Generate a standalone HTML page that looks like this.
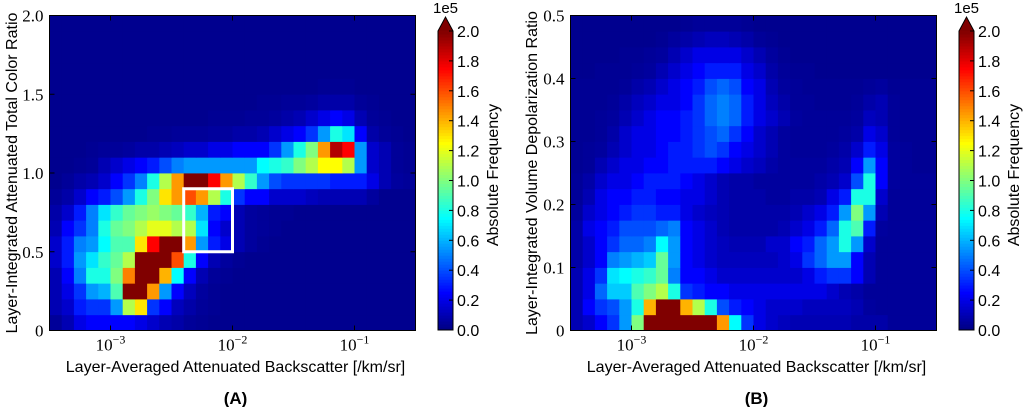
<!DOCTYPE html>
<html><head><meta charset="utf-8"><style>
html,body{margin:0;padding:0;background:#fff;}
svg{display:block;}
.serif{font-family:"Liberation Serif",serif;}
.sans{font-family:"Liberation Sans",sans-serif;}
</style></head><body>
<svg id="fig" width="1024" height="407" viewBox="0 0 1024 407" xmlns="http://www.w3.org/2000/svg"></svg>
<script>
// ---- data (values in units of 1e4 counts); rows bottom->top, 30 log-x bins ----
const xBinStartLog = -3.5;
const xBinWidthLog = 0.1;
const xTickLogs = [-3, -2, -1];
const yTicksA = [0, 0.5, 1.0, 1.5, 2.0];
const yTickLabelsA = ["0", "0.5", "1.0", "1.5", "2.0"];
const yTicksB = [0, 0.1, 0.2, 0.3, 0.4, 0.5];
const yTickLabelsB = ["0", "0.1", "0.2", "0.3", "0.4", "0.5"];
const cbTicks = [0, 0.2, 0.4, 0.6, 0.8, 1.0, 1.2, 1.4, 1.6, 1.8, 2.0];
const cbTickLabels = ["0.0","0.2","0.4","0.6","0.8","1.0","1.2","1.4","1.6","1.8","2.0"];
const boxA = {x0: -2.4, x1: -2.0, y0: 0.5, y1: 0.9};

const gridA = [
[0.5,1,2,2.5,2.5,2.5,2.5,2,1.5,1,0.8,0.5,0.4,0.3,0.3,0.3,0.3,0.3,0.3,0.3,0.3,0.3,0.3,0.3,0.3,0.3,0.3,0.3,0.3,0.3],
[1,1.5,3,3.5,3.5,5.5,11,13,3.5,2.5,1.2,0.8,0.5,0.4,0.3,0.3,0.3,0.3,0.3,0.3,0.3,0.3,0.3,0.3,0.3,0.3,0.3,0.3,0.3,0.3],
[1,2,3.5,5.5,6,9,20,20,14.5,5.5,2.5,1.2,0.6,0.4,0.3,0.3,0.3,0.3,0.3,0.3,0.3,0.3,0.3,0.3,0.3,0.3,0.3,0.3,0.3,0.3],
[1,2.5,5,8,8,10,15,20,20,14,7.5,2.5,1,0.5,0.4,0.3,0.3,0.3,0.3,0.3,0.3,0.3,0.3,0.3,0.3,0.3,0.3,0.3,0.3,0.3],
[1.5,3,5.5,7,8.5,9.5,11,20,20,20,16,8,2.5,1,0.6,0.4,0.3,0.3,0.3,0.3,0.3,0.3,0.3,0.3,0.3,0.3,0.3,0.3,0.3,0.3],
[1.5,3,5,5.5,7.5,9,9,13,17.5,20,20,14.5,5.5,3,2,1,0.6,0.4,0.3,0.3,0.3,0.3,0.3,0.3,0.3,0.3,0.3,0.3,0.3,0.3],
[1,2.5,3.5,5,8,9.5,10,11,12,12,11,11,7,2.5,1.5,1,0.6,0.5,0.4,0.3,0.3,0.3,0.3,0.3,0.3,0.3,0.3,0.3,0.3,0.3],
[0.8,1.5,3,5,7,8.5,9.5,10,10.5,10,9.5,8.5,6,3,2.5,1,0.6,0.5,0.4,0.4,0.3,0.3,0.3,0.3,0.3,0.3,0.3,0.3,0.3,0.3],
[0.5,0.8,1.5,2.5,3,4,5.5,8,10,13,14.5,16,14.5,11,8,3.5,2.5,2.5,1.5,1.5,1.5,1.2,1,1,1,1,0.6,0.3,0.3,0.3],
[0.3,0.5,0.8,1,1.5,2.5,3.5,5,8,11,14.5,20,20,17.5,14.5,11,8.5,5.5,4,3.5,3.5,3.5,3.5,3,3,3,2,1,0.6,0.5],
[0.3,0.3,0.4,0.5,1,1.5,2,2.5,3,4,5,5.5,5.5,5.5,5.5,5.5,5.5,7.5,8,8.5,10,11,12.5,12.5,11,5.5,1.5,1,0.5,0.4],
[0.3,0.3,0.3,0.4,0.5,0.5,0.6,0.8,0.8,1,1.2,1.5,1.5,2,2,2.5,2.5,2.5,3.5,5.5,8,10,14.5,19,17.5,5.5,1.5,1,0.5,0.4],
[0.3,0.3,0.3,0.3,0.3,0.3,0.3,0.3,0.4,0.4,0.5,0.5,0.5,0.6,0.6,0.8,0.8,1,1.5,2,2.5,3.5,5.5,8,7,2.5,0.8,0.5,0.4,0.3],
[0.3,0.3,0.3,0.3,0.3,0.3,0.3,0.3,0.3,0.3,0.3,0.3,0.3,0.4,0.4,0.4,0.5,0.5,0.6,0.8,1,1.5,2,2.5,2,1,0.5,0.4,0.3,0.3],
[0.3,0.3,0.3,0.3,0.3,0.3,0.3,0.3,0.3,0.3,0.3,0.3,0.3,0.3,0.3,0.3,0.3,0.4,0.4,0.5,0.5,0.6,0.8,0.8,0.8,0.5,0.4,0.3,0.3,0.3],
[0.3,0.3,0.3,0.3,0.3,0.3,0.3,0.3,0.3,0.3,0.3,0.3,0.3,0.3,0.3,0.3,0.3,0.3,0.3,0.3,0.3,0.3,0.4,0.4,0.4,0.3,0.3,0.3,0.3,0.3],
[0.3,0.3,0.3,0.3,0.3,0.3,0.3,0.3,0.3,0.3,0.3,0.3,0.3,0.3,0.3,0.3,0.3,0.3,0.3,0.3,0.3,0.3,0.3,0.3,0.3,0.3,0.3,0.3,0.3,0.3],
[0.3,0.3,0.3,0.3,0.3,0.3,0.3,0.3,0.3,0.3,0.3,0.3,0.3,0.3,0.3,0.3,0.3,0.3,0.3,0.3,0.3,0.3,0.3,0.3,0.3,0.3,0.3,0.3,0.3,0.3],
[0.3,0.3,0.3,0.3,0.3,0.3,0.3,0.3,0.3,0.3,0.3,0.3,0.3,0.3,0.3,0.3,0.3,0.3,0.3,0.3,0.3,0.3,0.3,0.3,0.3,0.3,0.3,0.3,0.3,0.3],
[0.3,0.3,0.3,0.3,0.3,0.3,0.3,0.3,0.3,0.3,0.3,0.3,0.3,0.3,0.3,0.3,0.3,0.3,0.3,0.3,0.3,0.3,0.3,0.3,0.3,0.3,0.3,0.3,0.3,0.3]
];

const gridB = [
[1,1.5,2.5,3.5,5.5,10,20,20,20,20,20,20,14.5,7.5,3.5,2,1.5,1.2,1,1,1,1,1,0.8,0.8,0.8,0.5,0.5,0.5,0.5],
[1,2.5,3.5,4,5.5,8,14,20,20,14,11,8,4,3,2.5,2,1.5,1.5,1.5,1.2,1.2,1.2,1.2,1,0.6,0.5,0.5,0.5,0.5,0.5],
[1,2,4.5,6.5,6.5,9,10,11,8,3.5,3,2.5,2.5,2,2,2,2,2,2,2,2,1.5,1,0.8,0.5,0.5,0.5,0.5,0.5,0.5],
[1,2,3.5,7,7.5,8,8.5,9.5,5,2.5,2.5,2,1.5,1.5,1.5,1.5,1.5,1.5,1.5,2,3,3.5,3.5,2.5,1,0.5,0.5,0.5,0.5,0.5],
[0.8,1.5,2.5,5,5.5,6,6.5,9.5,5.5,2.5,2,1.5,1.2,1.2,1.2,1.2,1.2,1.5,2,3.5,4.5,5.5,5.5,2.5,1,0.5,0.5,0.5,0.5,0.5],
[0.8,1.5,2.5,3.5,4.5,4.5,5,7.5,5.5,2.5,2,1.5,1.2,1,1,1,1.5,1.5,2.5,3,4.5,5.5,8,5.5,1.5,0.5,0.5,0.5,0.5,0.5],
[0.8,2,2.5,3,4,4,4,4.5,5,2.5,2,1.5,1,0.8,0.8,0.8,0.8,1,1.5,2,3,4.5,8,9,3,0.6,0.5,0.5,0.5,0.5],
[0.6,1.5,2,2.5,3,3.5,3.5,3,3,2,1.5,1.2,1,0.8,0.8,0.8,0.8,0.8,1,1.5,2,3,5.5,10,5.5,1,0.5,0.5,0.5,0.5],
[0.5,1,2,2.5,2.5,3,3,2.5,2.5,2,2,1.5,1,0.8,0.8,0.8,0.6,0.6,0.8,0.8,1,2,3,8,8,1.5,0.5,0.5,0.5,0.5],
[0.5,0.8,1.5,2,2,2.5,3,3,3,2.5,2,1.5,1,0.8,0.8,0.6,0.6,0.6,0.6,0.6,0.8,1,1.5,4,8,2.5,0.6,0.5,0.5,0.5],
[0.4,0.5,1,1.5,2,2,2.5,2.5,3,3,3,3,2.5,2,1.5,1.2,0.8,0.6,0.6,0.6,0.6,0.8,1,2.5,5.5,2.5,0.6,0.5,0.4,0.4],
[0.4,0.5,0.6,1,1.5,2,2,2.5,3,3,3.5,4,3.5,2.5,2,1.5,1,0.6,0.5,0.5,0.5,0.6,0.8,1.5,3,2,0.6,0.5,0.4,0.4],
[0.4,0.4,0.5,0.8,1.5,2,2,2.5,2.5,3,3.5,4,4.5,3.5,2.5,1.5,1,0.6,0.5,0.5,0.5,0.5,0.6,0.8,2,1.5,0.5,0.4,0.4,0.4],
[0.4,0.4,0.5,0.6,1,1.5,2,2.5,2.5,3,3.5,4.5,5,4.5,3,2,1.5,1,0.6,0.5,0.5,0.5,0.5,0.6,1.2,1,0.5,0.4,0.4,0.4],
[0.4,0.4,0.4,0.5,0.8,1.2,1.5,2,2,2.5,3.5,4.5,5,4.5,3,2,1.2,0.8,0.5,0.5,0.4,0.4,0.4,0.5,0.8,1,0.5,0.4,0.4,0.4],
[0.4,0.4,0.4,0.4,0.5,0.8,1,1.5,2,2.5,3,4,4.5,4,2.5,2,1,0.6,0.5,0.4,0.4,0.4,0.4,0.4,0.5,0.6,0.4,0.4,0.4,0.4],
[0.3,0.3,0.4,0.4,0.4,0.5,0.6,1,1.5,2,2.5,3,3,3,2,1.5,0.8,0.5,0.4,0.4,0.3,0.3,0.3,0.3,0.3,0.3,0.3,0.3,0.3,0.3],
[0.3,0.3,0.3,0.3,0.4,0.4,0.5,0.6,1,1.5,2,2,2,2,1.5,1,0.6,0.4,0.3,0.3,0.3,0.3,0.3,0.3,0.3,0.3,0.3,0.3,0.3,0.3],
[0.3,0.3,0.3,0.3,0.3,0.3,0.3,0.4,0.6,0.8,1,1.2,1.2,1,0.8,0.5,0.4,0.3,0.3,0.3,0.3,0.3,0.3,0.3,0.3,0.3,0.3,0.3,0.3,0.3],
[0.3,0.3,0.3,0.3,0.3,0.3,0.3,0.3,0.3,0.4,0.5,0.5,0.5,0.5,0.4,0.3,0.3,0.3,0.3,0.3,0.3,0.3,0.3,0.3,0.3,0.3,0.3,0.3,0.3,0.3]
];

const NS = "http://www.w3.org/2000/svg";
const svg = document.getElementById('fig');
const VMAX = 20;
function mk(tag, attrs, parent) {
  const e = document.createElementNS(NS, tag);
  for (const k in attrs) e.setAttribute(k, attrs[k]);
  (parent || svg).appendChild(e);
  return e;
}
function clip(v){return Math.max(0, Math.min(1, v));}
function jet(t) {
  t = clip(t);
  const r = clip(1.5 - Math.abs(4*t - 3)), g = clip(1.5 - Math.abs(4*t - 2)), b = clip(1.5 - Math.abs(4*t - 1));
  return `rgb(${Math.round(r*255)},${Math.round(g*255)},${Math.round(b*255)})`;
}

function panel(opts) {
  const {left, right, top, bottom, grid, yMax, yTicks, yLabels, yTitle, ytx, cbx, name, letter} = opts;
  const nCols = grid[0].length, nRows = grid.length;
  const xMinLog = xBinStartLog, xMaxLog = xBinStartLog + nCols * xBinWidthLog;
  const xS = l => left + (l - xMinLog) / (xMaxLog - xMinLog) * (right - left);
  const yS = v => bottom - v / yMax * (bottom - top);
  const rowH = yMax / nRows;
  const g = mk('g', {});
  
  
  for (let r = 0; r < nRows; r++) {
    for (let c = 0; c < nCols; c++) {
      const x0 = xS(xMinLog + c*xBinWidthLog), x1 = xS(xMinLog + (c+1)*xBinWidthLog);
      const y0 = yS((r+1)*rowH), y1 = yS(r*rowH);
      const cell = mk('rect', {x: x0, y: y0, width: x1 - x0 + 0.4, height: y1 - y0 + 0.4, fill: jet(grid[r][c] / VMAX)}, g);
      
      
    }
  }
  const frame = mk('rect', {x: left, y: top, width: right-left, height: bottom-top, fill: 'none', stroke: '#000', 'stroke-width': 1});
  
  
  xTickLogs.forEach(l => {
    const x = xS(l);
    mk('line', {x1: x, y1: bottom, x2: x, y2: bottom - 5, stroke: '#000'});
    mk('line', {x1: x, y1: top, x2: x, y2: top + 5, stroke: '#000'});
    const t = mk('text', {x: x, y: bottom + 20, 'text-anchor': 'middle', 'font-size': 17, class: 'serif'});
    
    
    t.appendChild(document.createTextNode('10'));
    const s = mk('tspan', {dy: -7, 'font-size': 12}, t);
    s.textContent = '\u2212' + Math.abs(l);
  });
  yTicks.forEach((v, i) => {
    const y = yS(v);
    mk('line', {x1: left, y1: y, x2: left + 5, y2: y, stroke: '#000'});
    mk('line', {x1: right, y1: y, x2: right - 5, y2: y, stroke: '#000'});
    const t = mk('text', {x: left - 6, y: y + 6, 'text-anchor': 'end', 'font-size': 17, class: 'serif'});
    
    
    t.textContent = yLabels[i];
  });
  const cx = (left + right) / 2;
  const xt = mk('text', {x: cx + 3, y: 372, 'text-anchor': 'middle', 'font-size': 16, class: 'sans'});
  
  
  xt.textContent = 'Layer-Averaged Attenuated Backscatter [/km/sr]';
  const yt = mk('text', {x: 0, y: 0, 'text-anchor': 'middle', 'font-size': 16, class: 'sans', transform: `translate(${ytx},${(top+bottom)/2}) rotate(-90)`});
  
  
  yt.textContent = yTitle;
  const lt = mk('text', {x: cx + 3, y: 404, 'text-anchor': 'middle', 'font-size': 17, 'font-weight': 'bold', class: 'sans'});
  
  
  lt.textContent = '(' + letter + ')';
  const cbTop = 31, cbBot = 330, cbW = 15;
  const cbS = v => cbBot - v / cbTicks[cbTicks.length-1] * (cbBot - cbTop);
  const cg = mk('g', {});
  
  
  const N = 100;
  for (let i = 0; i < N; i++) {
    const v0 = i / N * 2, v1 = (i+1) / N * 2;
    mk('rect', {x: cbx, y: cbS(v1), width: cbW, height: cbS(v0) - cbS(v1) + 0.5, fill: jet((v0+v1)/4)}, cg);
  }
  mk('polygon', {points: `${cbx},${cbTop} ${cbx+cbW},${cbTop} ${cbx+cbW/2},${cbTop-14}`, fill: jet(1)}, cg);
  mk('path', {d: `M${cbx},${cbBot} L${cbx},${cbTop} L${cbx+cbW/2},${cbTop-14} L${cbx+cbW},${cbTop} L${cbx+cbW},${cbBot} Z`, fill: 'none', stroke: '#000', 'stroke-width': 1}, cg);
  cbTicks.forEach((v, i) => {
    const y = cbS(v);
    mk('line', {x1: cbx + cbW - 4, y1: y, x2: cbx + cbW, y2: y, stroke: '#000'}, cg);
    const t = mk('text', {x: cbx + cbW + 4, y: y + 6, 'font-size': 16, class: 'sans'}, cg);
    
    
    t.textContent = cbTickLabels[i];
  });
  const e5 = mk('text', {x: cbx + cbW/2, y: 13, 'text-anchor': 'middle', 'font-size': 15, class: 'sans'});
  
  
  e5.textContent = '1e5';
  const cl = mk('text', {x: 0, y: 0, 'text-anchor': 'middle', 'font-size': 16, class: 'sans', transform: `translate(${cbx + cbW + 45},175) rotate(-90)`});
  
  
  cl.textContent = 'Absolute Frequency';
  return {xS, yS};
}

const A = panel({left: 49.5, right: 415.5, top: 15.5, bottom: 330.5, grid: gridA, yMax: 2.0, yTicks: yTicksA, yLabels: yTickLabelsA,
  yTitle: 'Layer-Integrated Attenuated Total Color Ratio', ytx: 17, cbx: 438, name: 'panel-a', letter: 'A'});
const box = mk('rect', {x: A.xS(boxA.x0), y: A.yS(boxA.y1), width: A.xS(boxA.x1) - A.xS(boxA.x0), height: A.yS(boxA.y0) - A.yS(boxA.y1), fill: 'none', stroke: '#fff', 'stroke-width': 3});



panel({left: 570.5, right: 936.5, top: 15.5, bottom: 330.5, grid: gridB, yMax: 0.5, yTicks: yTicksB, yLabels: yTickLabelsB,
  yTitle: 'Layer-Integrated Volume Depolarization Ratio', ytx: 537, cbx: 959, name: 'panel-b', letter: 'B'});
</script>
</body></html>
